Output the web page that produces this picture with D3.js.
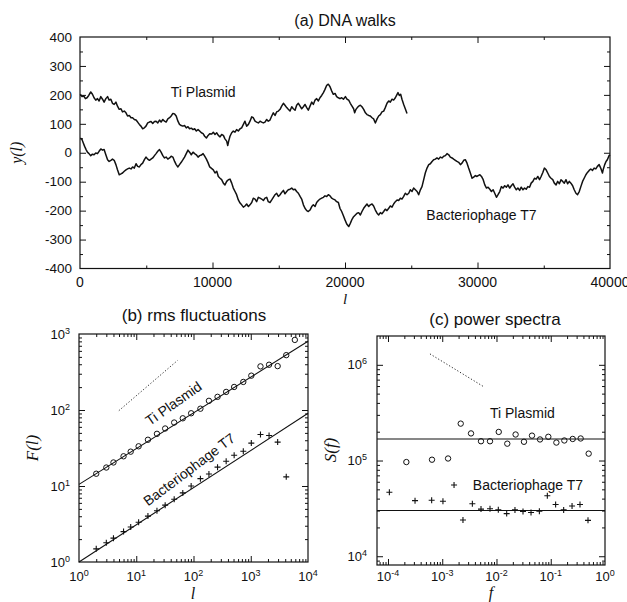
<!DOCTYPE html>
<html>
<head>
<meta charset="utf-8">
<script src="https://cdn.jsdelivr.net/npm/d3@7"></script>
<style>
  body { margin: 0; background: #fff; }
  text { font-family: "Liberation Sans", Arial, Helvetica, sans-serif; fill: #111; }
  .ital { font-family: "Liberation Serif", "Times New Roman", serif; font-style: italic; }
</style>
</head>
<body>
<svg id="chart" width="627" height="602"></svg>
<script>
// ---- (a) DNA walks : [l, y(l)] ----
const tiWalk = [
  [25,202],[150,194],[280,196],[410,187],[530,190],[660,198],[810,210],[940,202],[1060,190],[1190,182],
  [1320,187],[1440,179],[1570,194],[1700,185],[1820,175],[1950,187],[2080,194],[2200,182],[2330,185],[2450,171],
  [2580,167],[2710,175],[2830,161],[2960,150],[3090,152],[3210,141],[3340,144],[3470,138],[3590,127],[3720,129],
  [3850,121],[3970,121],[4100,115],[4230,113],[4350,106],[4480,98],[4600,92],[4730,83],[4860,86],[4980,92],
  [5110,103],[5240,106],[5360,108],[5490,101],[5620,108],[5740,109],[5870,103],[6000,113],[6120,106],[6250,115],
  [6380,109],[6500,106],[6630,117],[6760,121],[6880,127],[7010,136],[7140,134],[7260,127],[7390,109],[7510,98],
  [7640,94],[7770,92],[7890,94],[8020,86],[8150,90],[8270,83],[8400,85],[8530,80],[8650,83],[8780,75],
  [8910,80],[9030,75],[9160,69],[9290,66],[9410,57],[9540,51],[9670,60],[9790,66],
  [9940,65],[10060,71],[10190,63],[10320,69],[10440,60],[10570,55],[10690,63],[10820,60],[10940,48],[11070,40],
  [11150,25],[11220,40],[11320,57],[11450,69],[11570,75],[11700,71],[11820,80],[11950,75],[12080,83],[12200,86],
  [12330,98],[12450,109],[12580,92],[12710,98],[12830,109],[12960,124],[13080,121],[13210,109],[13330,106],[13460,103],
  [13590,109],[13710,106],[13840,103],[13960,106],[14090,115],[14210,109],[14340,113],[14470,127],[14590,138],[14720,129],
  [14840,141],[14970,144],[15100,150],[15220,161],[15350,171],[15470,164],[15600,156],[15720,150],[15850,144],[15980,159],
  [16100,152],[16230,147],[16350,164],[16480,171],[16610,161],[16730,152],[16860,159],[16980,167],[17110,156],[17230,147],
  [17360,161],[17490,175],[17610,167],[17740,182],[17860,187],[17990,179],[18110,190],[18240,198],[18370,208],[18490,219],
  [18620,233],[18740,237],[18870,228],[19000,213],[19120,202],[19250,205],[19370,194],[19500,190],[19620,187],[19750,190],
  [19880,185],[20030,194],[20150,185],[20280,182],[20400,171],[20530,161],[20650,152],[20730,138],[20830,150],[20930,156],
  [21030,161],[21160,164],[21280,159],[21410,150],[21540,138],[21660,132],[21790,129],[21910,127],[22040,121],[22160,117],
  [22290,103],[22420,117],[22540,127],[22670,132],[22790,141],[22920,144],[23040,156],[23170,171],[23300,179],[23420,175],
  [23550,185],[23670,182],[23800,190],[23930,202],[24000,208],[24100,198],[24200,202],[24300,185],[24430,167],[24550,152],
  [24680,136]
];

const t7Walk = [
  [25,51],[150,46],[250,34],[350,22],[460,11],[560,2],[680,-3],[810,-10],[940,-5],[1060,-7],
  [1190,-1],[1320,-3],[1440,5],[1570,13],[1700,9],[1820,11],[1950,-7],[2080,-24],[2200,-30],[2330,-26],
  [2450,-22],[2580,-26],[2710,-41],[2830,-59],[2960,-76],[3090,-73],[3210,-70],[3340,-64],[3470,-59],[3590,-56],
  [3720,-53],[3850,-56],[3970,-49],[4100,-53],[4230,-38],[4350,-47],[4480,-49],[4600,-41],[4730,-36],[4860,-24],
  [4980,-15],[5110,-22],[5240,-26],[5360,-22],[5490,-18],[5620,-10],[5740,-3],[5870,5],[6000,11],[6120,2],
  [6250,-10],[6380,-18],[6500,-15],[6630,-22],[6760,-18],[6880,-12],[7010,-15],[7140,-30],[7260,-41],[7390,-49],
  [7510,-41],[7640,-33],[7770,-24],[7890,-15],[8020,-3],[8150,9],[8270,2],[8400,-7],[8530,2],[8650,-3],
  [8780,-7],[8910,-15],[9030,-10],[9160,-8],[9290,-3],[9410,-12],[9540,-22],[9670,-35],[9790,-49],
  [10060,-59],[10190,-70],[10320,-64],[10440,-82],[10570,-88],[10690,-93],[10820,-105],[10940,-111],[11070,-99],[11200,-93],
  [11320,-91],[11450,-105],[11570,-122],[11700,-134],[11820,-145],[11950,-163],[12080,-174],[12200,-180],[12330,-188],[12450,-184],
  [12580,-177],[12710,-186],[12830,-180],[12960,-172],[13080,-157],[13210,-160],[13330,-169],[13460,-154],[13590,-157],[13710,-160],
  [13840,-165],[13960,-157],[14090,-154],[14210,-169],[14340,-172],[14470,-163],[14590,-154],[14720,-145],[14840,-140],[14970,-151],
  [15100,-145],[15220,-137],[15350,-130],[15470,-142],[15600,-134],[15720,-128],[15850,-126],[15980,-122],[16100,-128],[16230,-126],
  [16350,-134],[16480,-140],[16610,-151],[16730,-160],[16860,-180],[16980,-192],[17110,-200],[17230,-203],[17360,-198],[17490,-186],
  [17610,-180],[17740,-186],[17860,-172],[17990,-165],[18110,-160],[18240,-157],[18370,-154],[18490,-149],[18620,-151],[18740,-145],
  [18870,-149],[19000,-157],[19120,-160],[19250,-163],[19370,-169],[19500,-172],[19620,-192],[19750,-203],[19880,-218],[20000,-232],
  [20130,-246],[20280,-255],[20400,-244],[20530,-230],[20650,-221],[20780,-215],[20910,-209],[21030,-207],[21160,-215],[21280,-203],
  [21410,-192],[21540,-184],[21660,-177],[21790,-186],[21910,-180],[22040,-177],[22160,-184],[22290,-198],[22420,-209],[22540,-215],
  [22670,-207],[22790,-211],[22920,-203],[23040,-195],[23170,-200],[23300,-192],[23420,-184],[23550,-188],[23670,-177],[23800,-169],
  [23930,-163],[24050,-165],[24180,-157],[24300,-160],[24430,-151],[24550,-140],[24680,-145],[24810,-140],[24930,-128],[25060,-134],
  [25180,-122],[25310,-128],[25440,-134],[25560,-145],[25690,-128],[25810,-117],[25940,-93],[26060,-70],[26190,-53],[26320,-41],
  [26440,-38],[26570,-30],[26690,-24],[26820,-22],[26940,-18],[27070,-22],[27200,-15],[27320,-18],[27450,-12],[27570,-10],
  [27700,-3],[27830,-7],[27950,-15],[28080,-18],[28200,-22],[28330,-26],[28450,-30],[28580,-33],[28710,-41],[28830,-36],
  [28960,-26],[29080,-24],[29210,-36],[29330,-53],[29460,-70],[29590,-88],[29710,-84],[29840,-79],[29960,-82],
  [30050,-79],[30180,-76],[30300,-82],[30430,-93],[30550,-111],[30680,-122],[30800,-119],[30930,-126],[31050,-134],[31180,-128],
  [31300,-140],[31430,-154],[31550,-145],[31680,-134],[31800,-117],[31930,-122],[32050,-114],[32180,-119],[32300,-111],[32430,-122],
  [32550,-114],[32680,-107],[32800,-119],[32930,-128],[33050,-122],[33180,-130],[33300,-119],[33430,-128],[33550,-122],[33680,-126],
  [33800,-117],[33930,-119],[34050,-105],[34180,-99],[34300,-88],[34430,-91],[34550,-82],[34680,-93],[34800,-82],[34930,-68],
  [35050,-53],[35180,-59],[35300,-70],[35430,-82],[35550,-88],[35680,-93],[35800,-105],[35930,-111],[36050,-99],[36180,-107],
  [36300,-93],[36430,-99],[36550,-105],[36680,-93],[36800,-107],[36930,-99],[37050,-105],[37180,-114],[37300,-128],[37430,-140],
  [37550,-145],[37680,-134],[37800,-117],[37930,-99],[38050,-88],[38180,-76],[38300,-68],[38430,-61],[38550,-56],[38680,-61],
  [38800,-53],[38930,-56],[39050,-47],[39180,-41],[39300,-53],[39430,-70],[39500,-56],[39600,-41],[39700,-30],[39800,-24],
  [39930,-10],[40000,-7]
];
const yTicksA = [-400, -300, -200, -100, 0, 100, 200, 300, 400];
const yMinorA = [-350, -250, -150, -50, 50, 150, 250, 350];
const xTicksA = [0, 10000, 20000, 30000, 40000];
const xMinorA = [5000, 15000, 25000, 35000];

// ---- (b) rms fluctuations ----
const rmsL = [2, 3, 4, 6, 8, 11, 16, 23, 32, 46, 65, 91, 132, 186, 263, 372, 513, 741, 1023, 1479, 2089, 2951, 4169, 5888];
const tiRms = [14.5, 17.5, 20.4, 24.6, 28.3, 33.3, 40.6, 48.6, 57.1, 68.4, 77.8, 90.6, 104, 132, 149, 173, 201, 234, 283, 375, 394, 378, 527, 836];
const t7Rms = [1.49, 1.79, 2.06, 2.51, 2.89, 3.33, 4.02, 4.72, 5.6, 6.7, 8.11, 10.0, 12.5, 14.4, 17.7, 21.2, 25.4, 28.6, 36.7, 47.6, 46.2, 37.8, 13.2];
const tiRmsFit = [[1, 10.5], [10000, 802]];
const t7RmsFit = [[1, 1], [10000, 90.6]];
const rmsGuide = [[4.97, 98], [52.7, 449]];

// ---- (c) power spectra ----
const tiSpecF = [2.18e-4, 6.47e-4, 1.28e-3, 2.19e-3, 3.39e-3, 5.18e-3, 7.59e-3, 1.10e-2, 1.58e-2, 2.25e-2, 3.21e-2, 4.51e-2, 6.34e-2, 9.02e-2, 0.127, 0.178, 0.254, 0.356, 0.5];
const tiSpec = [9.64e4, 1.02e5, 1.05e5, 2.43e5, 1.92e5, 1.59e5, 1.59e5, 1.99e5, 1.50e5, 1.87e5, 1.57e5, 1.82e5, 1.66e5, 1.77e5, 1.54e5, 1.62e5, 1.68e5, 1.70e5, 1.18e5];
const t7SpecF = [1.06e-4, 3.15e-4, 6.38e-4, 1.03e-3, 1.65e-3, 2.41e-3, 3.59e-3, 5.18e-3, 7.59e-3, 1.08e-2, 1.54e-2, 2.19e-2, 3.08e-2, 4.33e-2, 6.17e-2, 8.65e-2, 0.123, 0.173, 0.247, 0.346, 0.486];
const t7Spec = [4.66e4, 3.81e4, 3.84e4, 3.76e4, 5.55e4, 2.39e4, 3.53e4, 3.11e4, 3.13e4, 3.06e4, 2.79e4, 3.05e4, 2.94e4, 2.86e4, 2.96e4, 4.29e4, 3.47e4, 3.05e4, 3.35e4, 3.47e4, 2.37e4];
const tiSpecLevel = 1.68e5;
const t7SpecLevel = 3.0e4;
const specGuide = [[5.94e-4, 1.30e6], [5.71e-3, 5.94e5]];

const svg = d3.select("#chart");
svg.append("rect").attr("width", 627).attr("height", 602).attr("fill", "#fff");

// scales
const xa = d3.scaleLinear().domain([0, 40000]).range([80, 610]);
const ya = d3.scaleLinear().domain([-400, 400]).range([268.5, 37]);
const xb = d3.scaleLog().domain([1, 1e4]).range([79, 308]);
const yb = d3.scaleLog().domain([1, 1e3]).range([562, 334]);
const xc = d3.scaleLog().domain([6.27e-5, 1]).range([377, 605]);
const yc = d3.scaleLog().domain([8.1e3, 2e6]).range([565, 336]);

let logMinor = (lo, hi) => {
  let out = [];
  for (let e = lo; e < hi; e++) for (let m = 2; m <= 9; m++) out.push(m * Math.pow(10, e));
  return out;
};

// inward ticks on all four sides + frame
let drawFrame = (x, y, xMaj, xMin, yMaj, yMin, big, small) => {
  const [x0, x1] = x.range(), [y0, y1] = y.range();
  const g = svg.append("g");
  const clean = (s) => s.call((s) => s.select(".domain").remove()).selectAll("line").attr("stroke", "#111");
  const xv = (vals) => vals.filter((v) => x(v) > x0 + 0.5 && x(v) < x1 - 0.5);
  const yv = (vals) => vals.filter((v) => y(v) < y0 - 0.5 && y(v) > y1 + 0.5);
  [[xMaj, big], [xMin, small]].forEach(([vals, len]) => {
    clean(g.append("g").attr("transform", `translate(0,${y0})`).call(d3.axisBottom(x).tickValues(xv(vals)).tickSize(-len).tickFormat("")));
    clean(g.append("g").attr("transform", `translate(0,${y1})`).call(d3.axisTop(x).tickValues(xv(vals)).tickSize(-len).tickFormat("")));
  });
  [[yMaj, big], [yMin, small]].forEach(([vals, len]) => {
    clean(g.append("g").attr("transform", `translate(${x0},0)`).call(d3.axisLeft(y).tickValues(yv(vals)).tickSize(-len).tickFormat("")));
    clean(g.append("g").attr("transform", `translate(${x1},0)`).call(d3.axisRight(y).tickValues(yv(vals)).tickSize(-len).tickFormat("")));
  });
  g.append("rect").attr("x", x0).attr("y", y1).attr("width", x1 - x0).attr("height", y0 - y1)
    .attr("fill", "none").attr("stroke", "#111").attr("stroke-width", 1.2);
};

let powLabel = (sel, v) => {
  const e = Math.round(Math.log10(v));
  sel.text("10");
  sel.append("tspan").attr("dy", "-0.55em").attr("font-size", "9px").text(e < 0 ? "-" + (-e) : e);
};

// ---------- panel (a) ----------
drawFrame(xa, ya, xTicksA, xMinorA, yTicksA, yMinorA, 6, 3);

const walkLine = d3.line().x((d) => xa(d[0])).y((d) => ya(d[1]));
[tiWalk, t7Walk].forEach((w) => {
  svg.append("path").attr("d", walkLine(w)).attr("fill", "none")
    .attr("stroke", "#111").attr("stroke-width", 1.5).attr("stroke-linejoin", "round");
});

svg.append("g").selectAll("text").data(yTicksA).enter().append("text")
  .attr("x", 72).attr("y", (d) => ya(d)).attr("dy", "0.35em")
  .attr("text-anchor", "end").attr("font-size", "13.5px").text((d) => d);
svg.append("g").selectAll("text").data(xTicksA).enter().append("text")
  .attr("x", (d) => xa(d)).attr("y", 282).attr("dy", "0.35em")
  .attr("text-anchor", "middle").attr("font-size", "14px").text((d) => d);

svg.append("text").attr("x", 345).attr("y", 26).attr("text-anchor", "middle")
  .attr("font-size", "16px").text("(a) DNA walks");
svg.append("text").attr("class", "ital").attr("transform", `translate(22,${ya(0)}) rotate(-90)`)
  .attr("text-anchor", "middle").attr("font-size", "16px").text("y(l)");
svg.append("text").attr("class", "ital").attr("x", 345).attr("y", 304)
  .attr("text-anchor", "middle").attr("font-size", "15px").text("l");
svg.append("text").attr("x", xa(9300)).attr("y", ya(209)).attr("dy", "0.35em")
  .attr("text-anchor", "middle").attr("font-size", "14px").text("Ti Plasmid");
svg.append("text").attr("x", xa(30300)).attr("y", ya(-215)).attr("dy", "0.35em")
  .attr("text-anchor", "middle").attr("font-size", "14px").text("Bacteriophage T7");

// ---------- panel (b) ----------
const decB = [1, 10, 100, 1000, 10000];
drawFrame(xb, yb, decB, logMinor(0, 4), decB.slice(0, 4), logMinor(0, 3), 6, 3);

const lineB = d3.line().x((d) => xb(d[0])).y((d) => yb(d[1]));
[tiRmsFit, t7RmsFit].forEach((f) => {
  svg.append("path").attr("d", lineB(f)).attr("stroke", "#111").attr("stroke-width", 1.1).attr("fill", "none");
});
svg.append("path").attr("d", lineB(rmsGuide)).attr("stroke", "#111").attr("stroke-width", 0.9)
  .attr("stroke-dasharray", "1.2,2").attr("fill", "none");

svg.append("g").selectAll("circle").data(tiRms).enter().append("circle")
  .attr("cx", (d, i) => xb(rmsL[i])).attr("cy", (d) => yb(d)).attr("r", 2.7)
  .attr("fill", "none").attr("stroke", "#111").attr("stroke-width", 1);
svg.append("g").selectAll("path").data(t7Rms).enter().append("path")
  .attr("transform", (d, i) => `translate(${xb(rmsL[i])},${yb(d)})`)
  .attr("d", "M-3,0H3M0,-3V3").attr("stroke", "#111").attr("stroke-width", 1.1);

svg.append("g").selectAll("text").data(decB.slice(0, 4)).enter().append("text")
  .attr("x", 70).attr("y", (d) => yb(d)).attr("dy", "0.35em").attr("text-anchor", "end")
  .attr("font-size", "13px").each(function (d) { powLabel(d3.select(this), d); });
svg.append("g").selectAll("text").data(decB).enter().append("text")
  .attr("x", (d) => xb(d)).attr("y", 576).attr("dy", "0.35em").attr("text-anchor", "middle")
  .attr("font-size", "13px").each(function (d) { powLabel(d3.select(this), d); });

svg.append("text").attr("x", 194).attr("y", 321).attr("text-anchor", "middle")
  .attr("font-size", "17px").text("(b) rms fluctuations");
svg.append("text").attr("class", "ital").attr("transform", `translate(38,448) rotate(-90)`)
  .attr("text-anchor", "middle").attr("font-size", "17px").text("F(l)");
svg.append("text").attr("class", "ital").attr("x", 193).attr("y", 599)
  .attr("text-anchor", "middle").attr("font-size", "16px").text("l");
svg.append("text").attr("transform", `translate(${xb(44.9)},${yb(122)}) rotate(-35)`).attr("dy", "0.35em")
  .attr("text-anchor", "middle").attr("font-size", "14px").text("Ti Plasmid");
svg.append("text").attr("transform", `translate(${xb(84)},${yb(16.5)}) rotate(-37)`).attr("dy", "0.35em")
  .attr("text-anchor", "middle").attr("font-size", "14px").text("Bacteriophage T7");

// ---------- panel (c) ----------
const decCx = [1e-4, 1e-3, 1e-2, 1e-1, 1];
const decCy = [1e4, 1e5, 1e6];
drawFrame(xc, yc, decCx, logMinor(-5, 0), decCy, logMinor(3, 6), 6, 3);

const lineC = d3.line().x((d) => xc(d[0])).y((d) => yc(d[1]));
[tiSpecLevel, t7SpecLevel].forEach((lv) => {
  svg.append("path").attr("d", lineC([[xc.domain()[0], lv], [xc.domain()[1], lv]]))
    .attr("stroke", "#111").attr("stroke-width", 1.1).attr("fill", "none");
});
svg.append("path").attr("d", lineC(specGuide)).attr("stroke", "#111").attr("stroke-width", 0.9)
  .attr("stroke-dasharray", "1.2,2").attr("fill", "none");

svg.append("g").selectAll("circle").data(tiSpec).enter().append("circle")
  .attr("cx", (d, i) => xc(tiSpecF[i])).attr("cy", (d) => yc(d)).attr("r", 2.7)
  .attr("fill", "none").attr("stroke", "#111").attr("stroke-width", 1);
svg.append("g").selectAll("path").data(t7Spec).enter().append("path")
  .attr("transform", (d, i) => `translate(${xc(t7SpecF[i])},${yc(d)})`)
  .attr("d", "M-3,0H3M0,-3V3").attr("stroke", "#111").attr("stroke-width", 1.1);

svg.append("g").selectAll("text").data(decCy).enter().append("text")
  .attr("x", 367).attr("y", (d) => yc(d)).attr("dy", "0.35em").attr("text-anchor", "end")
  .attr("font-size", "13px").each(function (d) { powLabel(d3.select(this), d); });
svg.append("g").selectAll("text").data(decCx).enter().append("text")
  .attr("x", (d) => xc(d)).attr("y", 576).attr("dy", "0.35em").attr("text-anchor", "middle")
  .attr("font-size", "13px").each(function (d) { powLabel(d3.select(this), d); });

svg.append("text").attr("x", 495).attr("y", 325).attr("text-anchor", "middle")
  .attr("font-size", "17px").text("(c) power spectra");
svg.append("text").attr("class", "ital").attr("transform", `translate(336,450) rotate(-90)`)
  .attr("text-anchor", "middle").attr("font-size", "17px").text("S(f)");
svg.append("text").attr("class", "ital").attr("x", 491).attr("y", 598)
  .attr("text-anchor", "middle").attr("font-size", "16px").text("f");
svg.append("text").attr("x", xc(0.030)).attr("y", yc(3.1e5)).attr("dy", "0.35em")
  .attr("text-anchor", "middle").attr("font-size", "14px").text("Ti Plasmid");
svg.append("text").attr("x", xc(0.038)).attr("y", yc(5.6e4)).attr("dy", "0.35em")
  .attr("text-anchor", "middle").attr("font-size", "14px").text("Bacteriophage T7");
</script>
</body>
</html>
